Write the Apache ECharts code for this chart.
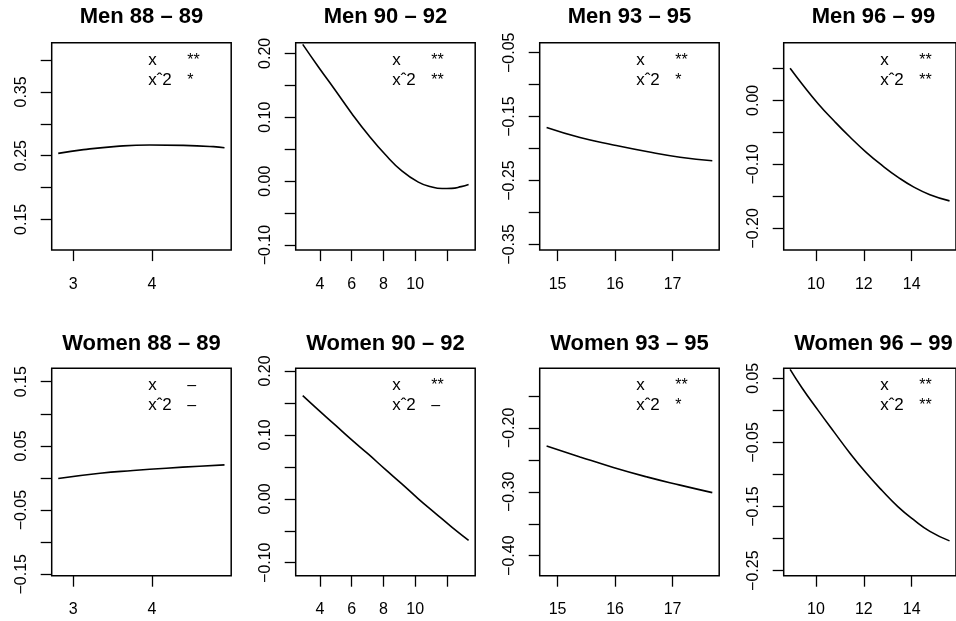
<!DOCTYPE html>
<html>
<head>
<meta charset="utf-8">
<script src="https://cdn.jsdelivr.net/npm/echarts@6/dist/echarts.min.js"></script>
<style>
  html, body { margin: 0; padding: 0; background: #fff; }
  #chart { width: 956px; height: 621px; }
</style>
</head>
<body>
<div id="chart"></div>
<script>
// Panel titles
const titles = [
  "Men 88 – 89", "Men 90 – 92", "Men 93 – 95", "Men 96 – 99",
  "Women 88 – 89", "Women 90 – 92", "Women 93 – 95", "Women 96 – 99"
];

// Fitted curves, one x/y pair of arrays per panel
const men8889X = [2.81, 3.13, 3.55, 3.97, 4.40, 4.78, 4.92];
const men8889Y = [0.2536, 0.2594, 0.2646, 0.2668, 0.2661, 0.2641, 0.2625];

const men9092X = [2.91, 3.89, 4.95, 6.00, 7.05, 8.10, 9.16, 10.20, 11.00, 11.70, 12.30, 12.90, 13.37];
const men9092Y = [0.214, 0.179, 0.1426, 0.106, 0.0722, 0.0420, 0.0160, -0.0015, -0.0088, -0.0115, -0.0112, -0.0085, -0.0052];

const men9395X = [14.81, 15.39, 15.97, 16.55, 17.13, 17.69];
const men9395Y = [-0.1672, -0.1828, -0.1943, -0.2047, -0.2135, -0.2190];

const men9699X = [8.92, 9.42, 10.09, 10.76, 11.42, 12.09, 12.76, 13.42, 14.09, 14.76, 15.58];
const men9699Y = [0.050, 0.0255, -0.0052, -0.0323, -0.0573, -0.0808, -0.1016, -0.1198, -0.1355, -0.1473, -0.1570];

const women8889X = [2.81, 3.34, 3.76, 4.18, 4.60, 4.92];
const women8889Y = [-0.0007, 0.0075, 0.0117, 0.0153, 0.0184, 0.0205];

const women9092X = [2.91, 3.89, 4.95, 6.00, 7.05, 8.10, 9.16, 10.20, 11.26, 12.31, 13.37];
const women9092Y = [0.1614, 0.1391, 0.1156, 0.0922, 0.0698, 0.0464, 0.0234, 0.0000, -0.0223, -0.0442, -0.0650];

const women9395X = [14.81, 15.39, 15.97, 16.55, 17.13, 17.69];
const women9395Y = [-0.2281, -0.2453, -0.2619, -0.2766, -0.2895, -0.3012];

const women9699X = [8.92, 9.42, 10.09, 10.76, 11.42, 12.09, 12.76, 13.42, 14.09, 14.76, 15.58];
const women9699Y = [0.0640, 0.0350, 0.0000, -0.0339, -0.0667, -0.0973, -0.1250, -0.1500, -0.1708, -0.1886, -0.2035];

const curveX = [men8889X, men9092X, men9395X, men9699X, women8889X, women9092X, women9395X, women9699X];
const curveY = [men8889Y, men9092Y, men9395Y, men9699Y, women8889Y, women9092Y, women9395Y, women9699Y];

// Significance of the linear and quadratic terms
const sigLinear    = ["**", "**", "**", "**", "–", "**", "**", "**"];
const sigQuadratic = ["*", "**", "*", "**", "–", "–", "*", "**"];

// Tick marks and tick labels
const xTicks = [
  [3, 4], [4, 6, 8, 10, 12], [15, 16, 17], [10, 12, 14],
  [3, 4], [4, 6, 8, 10, 12], [15, 16, 17], [10, 12, 14]
];
const xTickLabels = [
  [3, 4], [4, 6, 8, 10], [15, 16, 17], [10, 12, 14],
  [3, 4], [4, 6, 8, 10], [15, 16, 17], [10, 12, 14]
];
const yTicks = [
  [0.15, 0.20, 0.25, 0.30, 0.35, 0.40],
  [-0.10, -0.05, 0.00, 0.05, 0.10, 0.15, 0.20],
  [-0.35, -0.30, -0.25, -0.20, -0.15, -0.10, -0.05],
  [-0.20, -0.15, -0.10, -0.05, 0.00, 0.05],
  [-0.15, -0.10, -0.05, 0.00, 0.05, 0.10, 0.15],
  [-0.10, -0.05, 0.00, 0.05, 0.10, 0.15, 0.20],
  [-0.40, -0.35, -0.30, -0.25, -0.20, -0.15],
  [-0.25, -0.20, -0.15, -0.10, -0.05, 0.00, 0.05]
];
const yTickLabels = [
  [0.15, 0.25, 0.35],
  [-0.10, 0.00, 0.10, 0.20],
  [-0.35, -0.25, -0.15, -0.05],
  [-0.20, -0.10, 0.00],
  [-0.15, -0.05, 0.05, 0.15],
  [-0.10, 0.00, 0.10, 0.20],
  [-0.40, -0.30, -0.20],
  [-0.25, -0.15, -0.05, 0.05]
];

// Axis limits of each panel
const xLimits = [
  [2.727, 5.005], [2.466, 13.787], [14.69, 17.81], [8.652, 15.85],
  [2.727, 5.005], [2.466, 13.787], [14.69, 17.81], [8.652, 15.85]
];
const yLimits = [
  [0.1018, 0.4272], [-0.1078, 0.2166], [-0.3589, -0.0343], [-0.2339, 0.0900],
  [-0.1522, 0.1709], [-0.1203, 0.2042], [-0.4313, -0.1066], [-0.2578, 0.0656]
];

// Layout
const FONT = "Liberation Sans, Arial, Helvetica, sans-serif";
const colLeft = [51.7, 295.7, 539.7, 783.7];
const rowTop = [42.7, 368.3];
const boxW = 179.5, boxH = 207.4;

const fmtY = v => {
  const s = Math.abs(v).toFixed(2);
  return (v < -1e-9 ? "\u2212" : "") + s;
};

const grid = [], xAxis = [], yAxis = [], series = [], graphic = [];

for (let i = 0; i < 8; i++) {
  const row = i < 4 ? 0 : 1;
  const col = i % 4;
  const left = colLeft[col], top = rowTop[row];

  grid.push({
    left: left, top: top, width: boxW, height: boxH,
    show: true, borderColor: "#000", borderWidth: 1.5, backgroundColor: "transparent",
    containLabel: false
  });

  xAxis.push({
    type: "value", gridIndex: i, position: "bottom",
    min: xLimits[i][0], max: xLimits[i][1],
    axisLine: { show: false, onZero: false },
    splitLine: { show: false },
    axisTick: { show: true, length: 11, customValues: xTicks[i], lineStyle: { color: "#000", width: 1.3 } },
    axisLabel: {
      show: true, customValues: xTickLabels[i], margin: 26,
      color: "#000", fontSize: 16, fontFamily: FONT,
      formatter: v => String(v)
    }
  });

  yAxis.push({
    type: "value", gridIndex: i, position: "left",
    min: yLimits[i][0], max: yLimits[i][1],
    axisLine: { show: false, onZero: false },
    splitLine: { show: false },
    axisTick: { show: true, length: 11, customValues: yTicks[i], lineStyle: { color: "#000", width: 1.3 } },
    axisLabel: {
      show: true, customValues: yTickLabels[i], margin: 22, rotate: 90,
      color: "#000", fontSize: 16, fontFamily: FONT,
      formatter: fmtY
    }
  });

  series.push({
    type: "line", xAxisIndex: i, yAxisIndex: i,
    data: curveX[i].map((x, k) => [x, curveY[i][k]]),
    smooth: 0.5, showSymbol: false, symbol: "none", clip: true,
    lineStyle: { color: "#000", width: 1.6 },
    silent: true, animation: false
  });

  // Panel title
  graphic.push({
    type: "text", silent: true,
    style: {
      text: titles[i], x: left + boxW / 2, y: row === 0 ? 17 : 343.5,
      font: "bold 22px " + FONT, fill: "#000",
      textAlign: "center", textVerticalAlign: "middle", align: "center", verticalAlign: "middle"
    }
  });

  // Term labels with significance codes
  const right = left + boxW;
  const rowsY = [top + 17.5, top + 37.5];
  const terms = ["x", "x\u02c62"];
  const sigs = [sigLinear[i], sigQuadratic[i]];
  for (let r = 0; r < 2; r++) {
    graphic.push({
      type: "text", silent: true,
      style: {
        text: terms[r], x: right - 83, y: rowsY[r],
        font: "17px " + FONT, fill: "#000",
        textAlign: "left", textVerticalAlign: "middle", align: "left", verticalAlign: "middle"
      }
    });
    graphic.push({
      type: "text", silent: true,
      style: {
        text: sigs[r], x: right - 44, y: rowsY[r],
        font: "16px " + FONT, fill: "#000",
        textAlign: "left", textVerticalAlign: "middle", align: "left", verticalAlign: "middle"
      }
    });
  }
}

const chart = echarts.init(document.getElementById("chart"), null, { renderer: "canvas" });
chart.setOption({
  animation: false,
  backgroundColor: "#fff",
  grid, xAxis, yAxis, series, graphic
});
</script>
</body>
</html>
